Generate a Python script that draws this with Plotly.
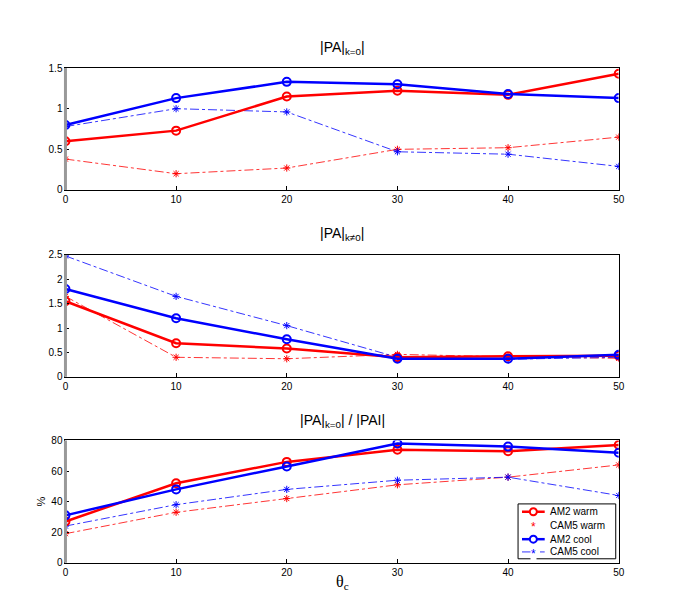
import plotly.graph_objects as go

theta = [0, 10, 20, 30, 40, 50]

# Panel 1: |PA|_{k=0}
p1_am2_warm = [0.60, 0.73, 1.15, 1.22, 1.17, 1.43]
p1_cam5_warm = [0.38, 0.20, 0.27, 0.50, 0.52, 0.65]
p1_am2_cool = [0.80, 1.13, 1.33, 1.30, 1.18, 1.13]
p1_cam5_cool = [0.78, 1.00, 0.96, 0.47, 0.44, 0.29]

# Panel 2: |PA|_{k!=0}
p2_am2_warm = [1.55, 0.69, 0.58, 0.40, 0.42, 0.43]
p2_cam5_warm = [1.65, 0.40, 0.37, 0.46, 0.41, 0.38]
p2_am2_cool = [1.80, 1.20, 0.77, 0.37, 0.37, 0.45]
p2_cam5_cool = [2.48, 1.65, 1.05, 0.40, 0.36, 0.40]

# Panel 3: ratio (%)
p3_am2_warm = [27, 52, 66, 74, 73, 77]
p3_cam5_warm = [19, 33, 42, 51, 56, 64]
p3_am2_cool = [31, 48, 63, 78, 76, 72]
p3_cam5_cool = [24, 38, 48, 54, 56, 44]

series_names = ["AM2 warm", "CAM5 warm", "AM2 cool", "CAM5 cool"]
red = "#ff0000"
blue = "#0000ff"
FONT = "Liberation Sans, Arial, sans-serif"

fig = go.Figure()

panels = [
    (p1_am2_warm, p1_cam5_warm, p1_am2_cool, p1_cam5_cool),
    (p2_am2_warm, p2_cam5_warm, p2_am2_cool, p2_cam5_cool),
    (p3_am2_warm, p3_cam5_warm, p3_am2_cool, p3_cam5_cool),
]

for i, (aw, cw, ac, cc) in enumerate(panels):
    xa = "x" if i == 0 else f"x{i+1}"
    ya = "y" if i == 0 else f"y{i+1}"
    fig.add_trace(go.Scatter(x=theta, y=cw, mode="lines+markers", name=series_names[1],
                             line=dict(color=red, width=0.8, dash="dashdot"),
                             marker=dict(symbol="asterisk-open", size=6, color=red, line=dict(color=red, width=1)),
                             xaxis=xa, yaxis=ya, showlegend=False))
    fig.add_trace(go.Scatter(x=theta, y=cc, mode="lines+markers", name=series_names[3],
                             line=dict(color=blue, width=0.8, dash="dashdot"),
                             marker=dict(symbol="asterisk-open", size=6, color=blue, line=dict(color=blue, width=1)),
                             xaxis=xa, yaxis=ya, showlegend=False))
    fig.add_trace(go.Scatter(x=theta, y=aw, mode="lines+markers", name=series_names[0],
                             line=dict(color=red, width=2.5),
                             marker=dict(symbol="circle-open", size=8, color=red, line=dict(color=red, width=2)),
                             xaxis=xa, yaxis=ya, showlegend=False))
    fig.add_trace(go.Scatter(x=theta, y=ac, mode="lines+markers", name=series_names[2],
                             line=dict(color=blue, width=2.5),
                             marker=dict(symbol="circle-open", size=8, color=blue, line=dict(color=blue, width=2)),
                             xaxis=xa, yaxis=ya, showlegend=False))

W, H = 677, 604
x0, x1 = 63.3 / W, 624 / W
doms = [(1 - 187.7 / H, 1 - 63.3 / H), (1 - 378.3 / H, 1 - 254 / H), (1 - 568 / H, 1 - 443.3 / H)]
yranges = [[0, 1.5], [0, 2.5], [0, 80]]
ytickvals = [[0, 0.5, 1, 1.5], [0, 0.5, 1, 1.5, 2, 2.5], [0, 20, 40, 60, 80]]
yticktext = [["0", "0.5", "1", "1.5"], ["0", "0.5", "1", "1.5", "2", "2.5"], ["0", "20", "40", "60", "80"]]

tickfont = dict(family=FONT, size=10, color="black")
layout = dict(
    width=W, height=H,
    margin=dict(l=0, r=0, t=0, b=0),
    paper_bgcolor="white", plot_bgcolor="white",
    font=dict(family=FONT, color="black"),
    showlegend=False,
)
for i in range(3):
    xk = "xaxis" if i == 0 else f"xaxis{i+1}"
    yk = "yaxis" if i == 0 else f"yaxis{i+1}"
    layout[xk] = dict(domain=[x0, x1], range=[0, 50], tickvals=theta, ticktext=[str(t) for t in theta],
                      showgrid=False, zeroline=False, showline=True, linecolor="black", linewidth=1,
                      mirror=True, ticks="inside", ticklen=4, tickcolor="black", tickfont=tickfont,
                      anchor="y" if i == 0 else f"y{i+1}")
    layout[yk] = dict(domain=list(doms[i]), range=yranges[i], tickvals=ytickvals[i], ticktext=yticktext[i],
                      showgrid=False, zeroline=False, showline=True, linecolor="black", linewidth=1,
                      mirror=True, ticks="inside", ticklen=4, tickcolor="black", tickfont=tickfont,
                      anchor="x" if i == 0 else f"x{i+1}")
fig.update_layout(**layout)

# Left axis drawn gray and thicker as in the reference
for i in range(3):
    xr = "x domain" if i == 0 else f"x{i+1} domain"
    yr = "y domain" if i == 0 else f"y{i+1} domain"
    fig.add_shape(type="line", xref=xr, yref=yr, x0=0, x1=0, y0=0, y1=1,
                  line=dict(color="#999999", width=3))

titles = ["|PA|<sub>k=0</sub>|", "|PA|<sub>k≠0</sub>|", "|PA|<sub>k=0</sub>| / |PAI|"]
title_y = [43, 233, 423]
for t, ty in zip(titles, title_y):
    fig.add_annotation(text=t, x=(x0 + x1) / 2, y=1 - ty / H, xref="paper", yref="paper",
                       showarrow=False, font=dict(size=14, family=FONT),
                       xanchor="center", yanchor="middle")

fig.add_annotation(text="%", x=38 / W, y=1 - 505 / H, xref="paper", yref="paper", showarrow=False,
                   textangle=-90, font=dict(size=11, family=FONT), xanchor="center", yanchor="middle")
fig.add_annotation(text="θ<sub>c</sub>", x=(x0 + x1) / 2, y=1 - 588 / H, xref="paper", yref="paper",
                   showarrow=False, font=dict(size=16, family="Liberation Serif, serif"),
                   xanchor="center", yanchor="middle")

# Manual legend (compact, like the reference)
def px(xp):
    return xp / W

def py(yp):
    return 1 - yp / H

fig.add_shape(type="rect", xref="paper", yref="paper", x0=px(522), x1=px(621), y0=py(564), y1=py(508),
              line=dict(color="black", width=1), fillcolor="white", layer="above")
legend_styles = [
    (red, 2.5, "solid", "circle"),
    (red, 0, "solid", "star"),
    (blue, 2.5, "solid", "circle"),
    (blue, 0.8, "dash", "star"),
]
rows_y = [516, 530, 544, 557]
lx0, lx1, lxm = 526, 549, 537.5
for name, (col, lw, dash, mk), ry in zip(series_names, legend_styles, rows_y):
    if lw > 0:
        fig.add_shape(type="line", xref="paper", yref="paper", x0=px(lx0), x1=px(lx1), y0=py(ry), y1=py(ry),
                      line=dict(color=col, width=lw, dash=dash), layer="above")
    if mk == "circle":
        fig.add_shape(type="circle", xref="paper", yref="paper", xsizemode="pixel", ysizemode="pixel",
                      xanchor=px(lxm), yanchor=py(ry), x0=-3.5, x1=3.5, y0=-3.5, y1=3.5,
                      line=dict(color=col, width=2), fillcolor="white", layer="above")
    else:
        fig.add_annotation(text="*", x=px(lxm), y=py(ry + 2), xref="paper", yref="paper", showarrow=False,
                           font=dict(size=12, color=col, family=FONT), xanchor="center", yanchor="middle",
                           bgcolor="white" if lw > 0 else None, borderpad=0)
    fig.add_annotation(text=name, x=px(552), y=py(ry), xref="paper", yref="paper", showarrow=False,
                       font=dict(size=10, family=FONT, color="black"), xanchor="left", yanchor="middle")

fig.write_html("out.html", config={"displayModeBar": False},
               post_script="document.body.style.margin='0';document.body.style.overflow='hidden';")
